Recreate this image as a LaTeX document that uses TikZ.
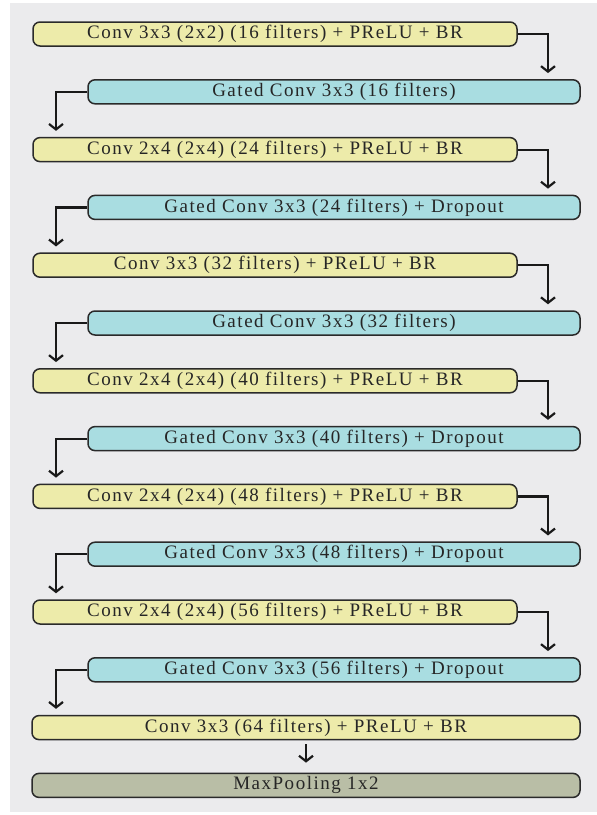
\documentclass[tikz,border=0pt]{standalone}
\usepackage{fontspec}
\setmainfont{Liberation Serif}
\newfontfamily\boxfont[LetterSpace=8]{Liberation Serif}
\usetikzlibrary{arrows.meta}

\definecolor{convyellow}{HTML}{EDEBAA}
\definecolor{gatedcyan}{HTML}{A9DDE1}
\definecolor{poolgray}{HTML}{B9BEA6}
\definecolor{panelgray}{HTML}{EBEBED}
\definecolor{edgegray}{HTML}{2A2A2A}

\tikzset{
  layerbox/.style={draw=edgegray, line width=1.5pt, rounded corners=7pt,
    minimum height=24pt, inner sep=0pt, text=black!85,
    font=\boxfont\fontsize{19}{21}\selectfont},
  convbox/.style={layerbox, fill=convyellow, minimum width=484pt},
  gatedbox/.style={layerbox, fill=gatedcyan, minimum width=492pt},
  widebox/.style={layerbox, fill=convyellow, minimum width=548pt},
  poolbox/.style={layerbox, fill=poolgray, minimum width=548pt},
  link/.style={draw=black!90, line width=2.2pt,
    -{Straight Barb[length=5.5pt,width=14pt]}}
}

\begin{document}
\begin{tikzpicture}[x=1pt,y=-1pt]
  \fill[white] (0,0) rectangle (597,815);
  \useasboundingbox (0,0) rectangle (597,815);
  \fill[panelgray] (10,3) rectangle (597,812);

  % rails for the elbow connectors
  \coordinate (rightrail) at (548,0);
  \coordinate (leftrail) at (56,0);

  \node[convbox]  (c1) at (275,34)    {Conv 3x3 (2x2) (16 filters) + PReLU + BR};
  \node[gatedbox] (g1) at (334,91.8)  {Gated Conv 3x3 (16 filters)};
  \node[convbox]  (c2) at (275,149.6) {Conv 2x4 (2x4) (24 filters) + PReLU + BR};
  \node[gatedbox] (g2) at (334,207.4) {Gated Conv 3x3 (24 filters) + Dropout};
  \node[convbox]  (c3) at (275,265.2) {Conv 3x3 (32 filters) + PReLU + BR};
  \node[gatedbox] (g3) at (334,323)   {Gated Conv 3x3 (32 filters)};
  \node[convbox]  (c4) at (275,380.8) {Conv 2x4 (2x4) (40 filters) + PReLU + BR};
  \node[gatedbox] (g4) at (334,438.6) {Gated Conv 3x3 (40 filters) + Dropout};
  \node[convbox]  (c5) at (275,496.4) {Conv 2x4 (2x4) (48 filters) + PReLU + BR};
  \node[gatedbox] (g5) at (334,554.2) {Gated Conv 3x3 (48 filters) + Dropout};
  \node[convbox]  (c6) at (275,612)   {Conv 2x4 (2x4) (56 filters) + PReLU + BR};
  \node[gatedbox] (g6) at (334,669.8) {Gated Conv 3x3 (56 filters) + Dropout};
  \node[widebox]  (c7) at (306,727.6) {Conv 3x3 (64 filters) + PReLU + BR};
  \node[poolbox]  (pool) at (306,785.4) {MaxPooling 1x2};

  \foreach \a/\b in {c1/g1, c2/g2, c3/g3, c4/g4, c5/g5, c6/g6} {
    \draw[link, shorten >=6pt] (\a.east) -| (\b.north -| rightrail);
  }
  \foreach \a/\b in {g1/c2, g2/c3, g3/c4, g4/c5, g5/c6, g6/c7} {
    \draw[link, shorten >=6pt] (\a.west) -| (\b.north -| leftrail);
  }
  \draw[link, shorten <=4pt, shorten >=10pt] (c7.south) -- (pool.north);
\end{tikzpicture}
\end{document}
